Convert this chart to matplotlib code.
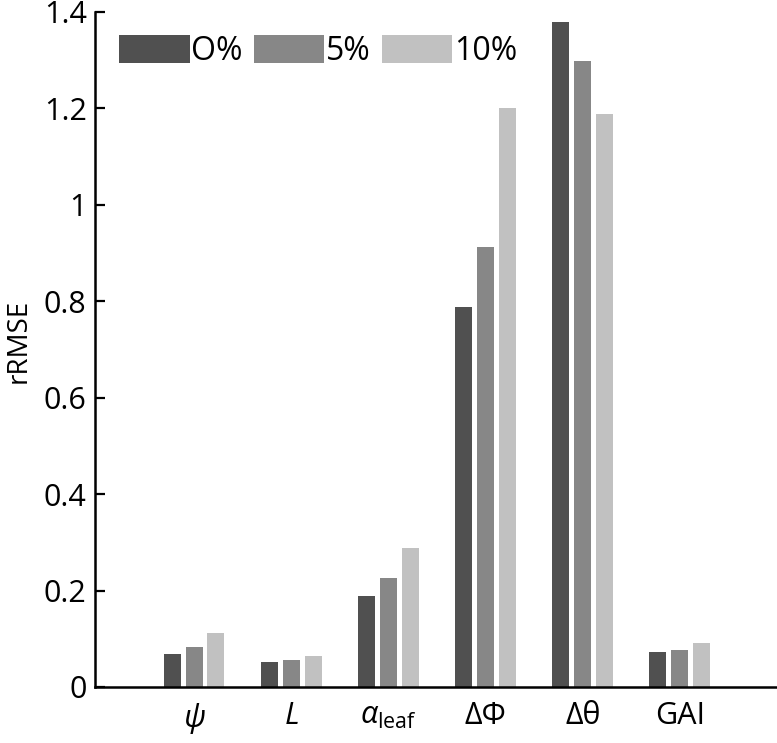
import numpy as np
import matplotlib
matplotlib.use("Agg")
import matplotlib.pyplot as plt

plt.rcParams["font.family"] = ["Open Sans", "DejaVu Sans"]
plt.rcParams["mathtext.fontset"] = "custom"
plt.rcParams["mathtext.rm"] = "Open Sans"
plt.rcParams["mathtext.it"] = "Open Sans:italic"

categories = [r"$\psi$", r"$L$", r"$\alpha_{\mathrm{leaf}}$", "ΔΦ", "Δθ", "GAI"]
series_labels = ["O%", "5%", "10%"]
noise_0 = [0.068, 0.052, 0.189, 0.788, 1.380, 0.073]
noise_5 = [0.083, 0.056, 0.226, 0.913, 1.299, 0.077]
noise_10 = [0.112, 0.064, 0.288, 1.201, 1.189, 0.091]
colors = ["#505050", "#878787", "#c1c1c1"]

fig = plt.figure(figsize=(7.77, 7.43), dpi=100)
ax = fig.add_axes([0.1223, 0.0754, 0.8777, 0.9085])

x = np.arange(len(categories))
width = 0.175
offsets = [-0.225, 0.0, 0.225]
for vals, off, col, lab in zip([noise_0, noise_5, noise_10], offsets, colors, series_labels):
    ax.bar(x + off, vals, width, color=col, label=lab, zorder=2)

ax.set_xlim(-1.02, 6.0)
ax.set_ylim(0, 1.4)
ax.set_yticks([0, 0.2, 0.4, 0.6, 0.8, 1.0, 1.2, 1.4])
ax.set_yticklabels(["0", "0.2", "0.4", "0.6", "0.8", "1", "1.2", "1.4"])
ax.set_xticks(x, categories)

for side in ["top", "right"]:
    ax.spines[side].set_visible(False)
for side in ["left", "bottom"]:
    ax.spines[side].set_linewidth(1.8)
    ax.spines[side].set_zorder(3)

ax.tick_params(axis="y", direction="in", length=7, width=1.6, labelsize=22, pad=6)
ax.tick_params(axis="x", direction="in", length=7, width=1.6, labelsize=22, pad=10)
ax.set_ylabel("rRMSE", fontsize=20)
ax.yaxis.set_label_coords(-0.092, 0.513)

ax.legend(
    ncol=3,
    loc="upper left",
    bbox_to_anchor=(0.017, 0.985),
    frameon=False,
    fontsize=23,
    handlelength=2.2,
    handleheight=1.0,
    handletextpad=0.05,
    columnspacing=0.35,
    borderaxespad=0,
)

fig.savefig("out.png", dpi=100)
